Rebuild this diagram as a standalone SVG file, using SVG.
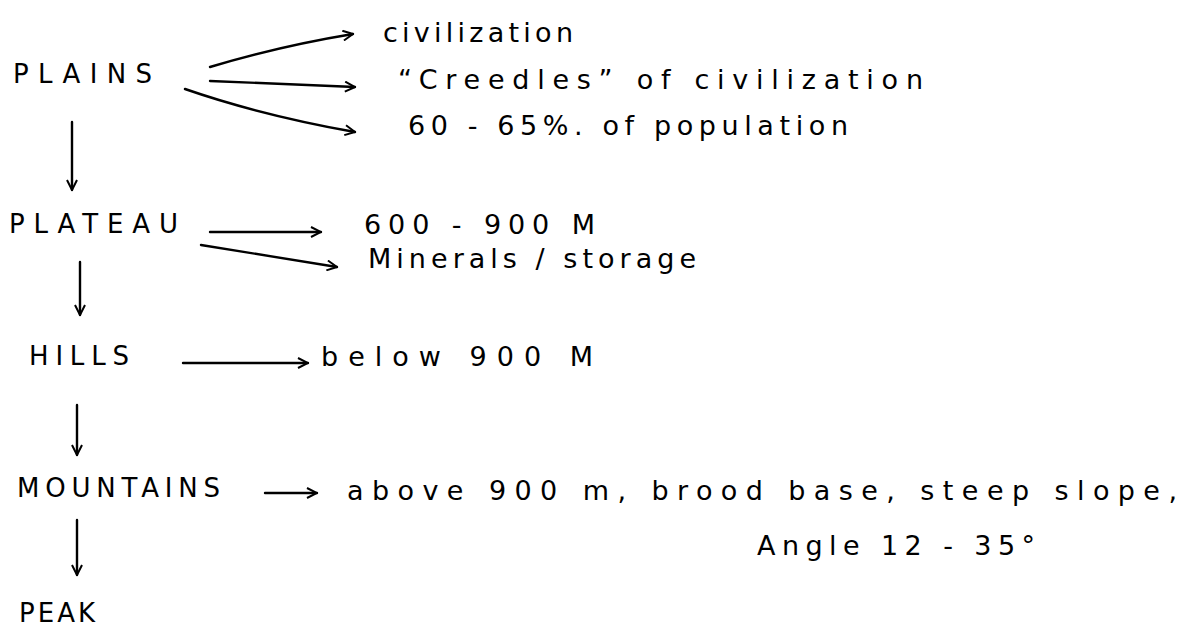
<svg xmlns="http://www.w3.org/2000/svg" width="1199" height="632" viewBox="0 0 1199 632">
<style>
.t{font-family:"DejaVu Sans","Liberation Sans",sans-serif;fill:#000}
.n{font-size:26px}
.l{font-size:27px}
.c{fill:none;stroke:#000;stroke-width:2.4;stroke-linecap:round}
</style>
<defs>
<marker id="ah" viewBox="0 0 12 12" refX="11" refY="6" markerWidth="12" markerHeight="12" markerUnits="userSpaceOnUse" orient="auto">
<path d="M1,1 L11,6 L1,11" fill="none" stroke="#000" stroke-width="2"/>
</marker>
</defs>
<rect width="1199" height="632" fill="#fff"/>
<g id="plains"><text class="t n" x="13" y="83" textLength="139" lengthAdjust="spacing">PLAINS</text></g>
<g id="civ1"><text class="t l" x="383" y="42" textLength="190" lengthAdjust="spacing">civilization</text></g>
<g id="cradles"><text class="t l" x="398" y="89" textLength="525" lengthAdjust="spacing">“Creedles” of civilization</text></g>
<g id="pop"><text class="t l" x="408" y="135" textLength="440" lengthAdjust="spacing">60 - 65%. of population</text></g>
<g id="plateau"><text class="t n" x="9" y="233" textLength="169" lengthAdjust="spacing">PLATEAU</text></g>
<g id="alt1"><text class="t l" x="364" y="234" textLength="231" lengthAdjust="spacing">600 - 900 M</text></g>
<g id="minerals"><text class="t l" x="368" y="268" textLength="328" lengthAdjust="spacing">Minerals / storage</text></g>
<g id="hills"><text class="t n" x="29" y="365" textLength="100" lengthAdjust="spacing">HILLS</text></g>
<g id="below"><text class="t l" x="321" y="366" textLength="272" lengthAdjust="spacing">below 900 M</text></g>
<g id="mountains"><text class="t n" x="17" y="497" textLength="203" lengthAdjust="spacing">MOUNTAINS</text></g>
<g id="above"><text class="t l" x="347" y="500" textLength="830" lengthAdjust="spacing">above 900 m, brood base, steep slope,</text></g>
<g id="angle"><text class="t l" x="757" y="555" textLength="278" lengthAdjust="spacing">Angle 12 - 35°</text></g>
<g id="peak"><text class="t n" x="19" y="622" textLength="76" lengthAdjust="spacing">PEAK</text></g>
<g id="connectors">
<path class="c" marker-end="url(#ah)" d="M210,67 Q280,46 353,34"/>
<path class="c" marker-end="url(#ah)" d="M210,81 L355,87"/>
<path class="c" marker-end="url(#ah)" d="M185,89 Q260,115 355,132"/>
<path class="c" marker-end="url(#ah)" d="M72,122 L72,190"/>
<path class="c" marker-end="url(#ah)" d="M210,232 L321,232"/>
<path class="c" marker-end="url(#ah)" d="M201,245 L337,267"/>
<path class="c" marker-end="url(#ah)" d="M80,262 L80,315"/>
<path class="c" marker-end="url(#ah)" d="M183,363 L308,363"/>
<path class="c" marker-end="url(#ah)" d="M77,405 L77,455"/>
<path class="c" marker-end="url(#ah)" d="M265,493 L317,493"/>
<path class="c" marker-end="url(#ah)" d="M77,520 L77,575"/>
</g>
</svg>
